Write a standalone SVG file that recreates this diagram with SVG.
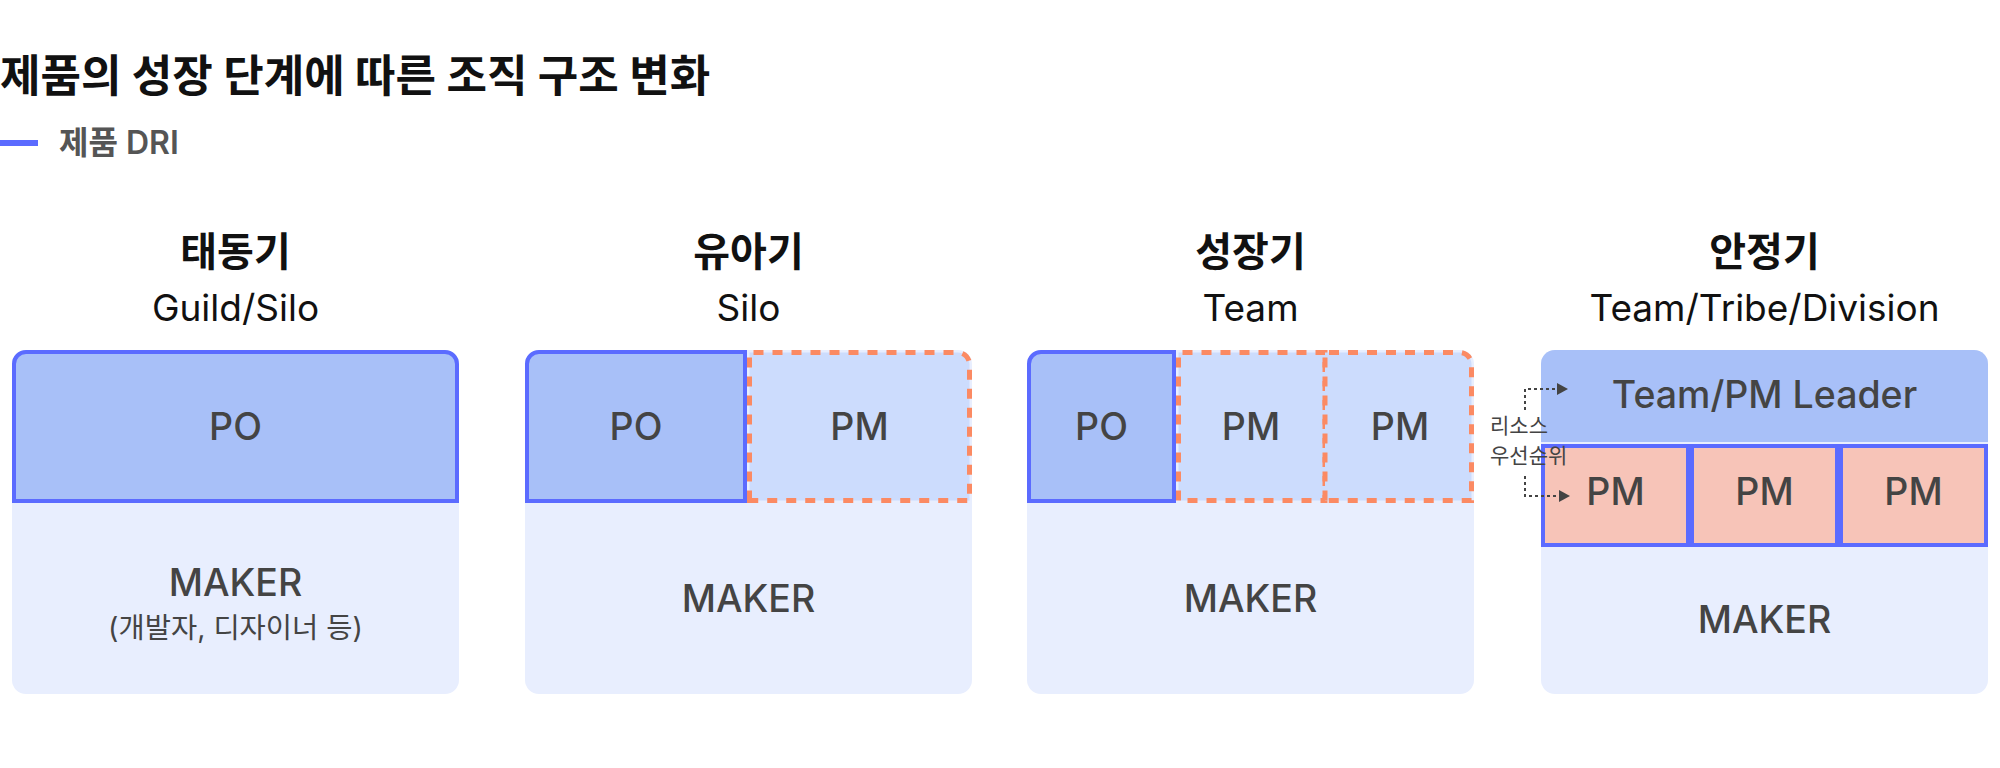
<svg xmlns="http://www.w3.org/2000/svg" width="2000" height="768" viewBox="0 0 2000 768">
<defs>
<style>
text{font-family:Inter,"Noto Sans CJK KR",sans-serif}
.title{font-size:44px;font-weight:700;fill:#111}
.legend{font-size:32px;font-weight:600;fill:#555}
.stage{font-size:40px;font-weight:700;fill:#111;text-anchor:middle}
.sub{font-size:37px;font-weight:400;fill:#111;text-anchor:middle}
.lbl{font-size:37.5px;font-weight:500;fill:#444;text-anchor:middle}
.note{font-size:28.5px;font-weight:400;fill:#444;text-anchor:middle}
.ann{font-size:21px;font-weight:400;fill:#444}
.bg{fill:#e8eefe}
.po{fill:#a8c0f8;stroke:#5b6bff;stroke-width:4}
.pmd{fill:#ccdcfd;stroke:#fb8a63;stroke-width:5;stroke-dasharray:10 9}
.lead{fill:#a8c0f8}
.pmr{fill:#f7c4b8;stroke:#5b6bff;stroke-width:4}
.conn{fill:none;stroke:#444;stroke-width:2;stroke-dasharray:3 3}
</style>
<marker id="arr" markerUnits="userSpaceOnUse" markerWidth="11" markerHeight="12" refX="0" refY="6" orient="auto">
<path d="M0,0 L11,6 L0,12 Z" fill="#444"/>
</marker>
</defs>
<rect width="2000" height="768" fill="#fff"/>
<g id="header">
<text class="title" x="0" y="92">제품의 성장 단계에 따른 조직 구조 변화</text>
<line x1="0" y1="143" x2="38" y2="143" stroke="#5b6bff" stroke-width="6"/>
<text class="legend" x="59" y="154">제품 DRI</text>
</g>
<g id="stage1">
<text class="stage" x="235.5" y="266">태동기</text>
<text class="sub" x="235.5" y="321">Guild/Silo</text>
<rect class="bg" x="12" y="350" width="447" height="344" rx="14"/>
<g id="s1-po">
<path class="po" d="M14,501 V364 A12,12 0 0 1 26,352 H445 A12,12 0 0 1 457,364 V501 Z"/>
<text class="lbl" x="235.5" y="440">PO</text>
</g>
<g id="s1-maker">
<text class="lbl" x="235.5" y="596">MAKER</text>
<text class="note" x="235.5" y="638">(개발자, 디자이너 등)</text>
</g>
</g>
<g id="stage2">
<text class="stage" x="748.5" y="266">유아기</text>
<text class="sub" x="748.5" y="321">Silo</text>
<rect class="bg" x="525" y="350" width="447" height="344" rx="14"/>
<g id="s2-pm">
<path class="pmd" d="M749.5,500.5 V352.5 H957.5 A12,12 0 0 1 969.5,364.5 V500.5 Z"/>
<text class="lbl" x="859.5" y="440">PM</text>
</g>
<g id="s2-po">
<path class="po" d="M527,501 V364 A12,12 0 0 1 539,352 H745 V501 Z"/>
<text class="lbl" x="636" y="440">PO</text>
</g>
<g id="s2-maker">
<text class="lbl" x="748.5" y="612">MAKER</text>
</g>
</g>
<g id="stage3">
<text class="stage" x="1250.5" y="266">성장기</text>
<text class="sub" x="1250.5" y="321">Team</text>
<rect class="bg" x="1027" y="350" width="447" height="344" rx="14"/>
<g id="s3-pm1">
<path class="pmd" d="M1178.5,500.5 V352.5 H1325 V500.5 Z"/>
<text class="lbl" x="1251" y="440">PM</text>
</g>
<g id="s3-pm2">
<path class="pmd" d="M1325,500.5 V352.5 H1459.5 A12,12 0 0 1 1471.5,364.5 V500.5 Z"/>
<text class="lbl" x="1400" y="440">PM</text>
</g>
<g id="s3-po">
<path class="po" d="M1029,501 V364 A12,12 0 0 1 1041,352 H1174 V501 Z"/>
<text class="lbl" x="1101.5" y="440">PO</text>
</g>
<g id="s3-maker">
<text class="lbl" x="1250.5" y="612">MAKER</text>
</g>
</g>
<g id="stage4">
<text class="stage" x="1764.5" y="266">안정기</text>
<text class="sub" x="1764.5" y="321">Team/Tribe/Division</text>
<rect class="bg" x="1541" y="350" width="447" height="344" rx="14"/>
<g id="s4-leader">
<path class="lead" d="M1541,442 V364 A14,14 0 0 1 1555,350 H1974 A14,14 0 0 1 1988,364 V442 Z"/>
<text class="lbl" x="1764.5" y="408">Team/PM Leader</text>
</g>
<g id="s4-pm1">
<rect class="pmr" x="1543" y="446" width="145" height="99"/>
<text class="lbl" x="1615.5" y="505">PM</text>
</g>
<g id="s4-pm2">
<rect class="pmr" x="1692" y="446" width="145" height="99"/>
<text class="lbl" x="1764.5" y="505">PM</text>
</g>
<g id="s4-pm3">
<rect class="pmr" x="1841" y="446" width="145" height="99"/>
<text class="lbl" x="1913.5" y="505">PM</text>
</g>
<g id="s4-maker">
<text class="lbl" x="1764.5" y="633">MAKER</text>
</g>
</g>
<g id="annotation">
<text class="ann" x="1490" y="433">리소스</text>
<text class="ann" x="1490" y="463">우선순위</text>
</g>
<g id="connectors">
<path class="conn" d="M1525,410 V389 H1557" marker-end="url(#arr)"/>
<path class="conn" d="M1525,476 V496 H1559" marker-end="url(#arr)"/>
</g>
</svg>
